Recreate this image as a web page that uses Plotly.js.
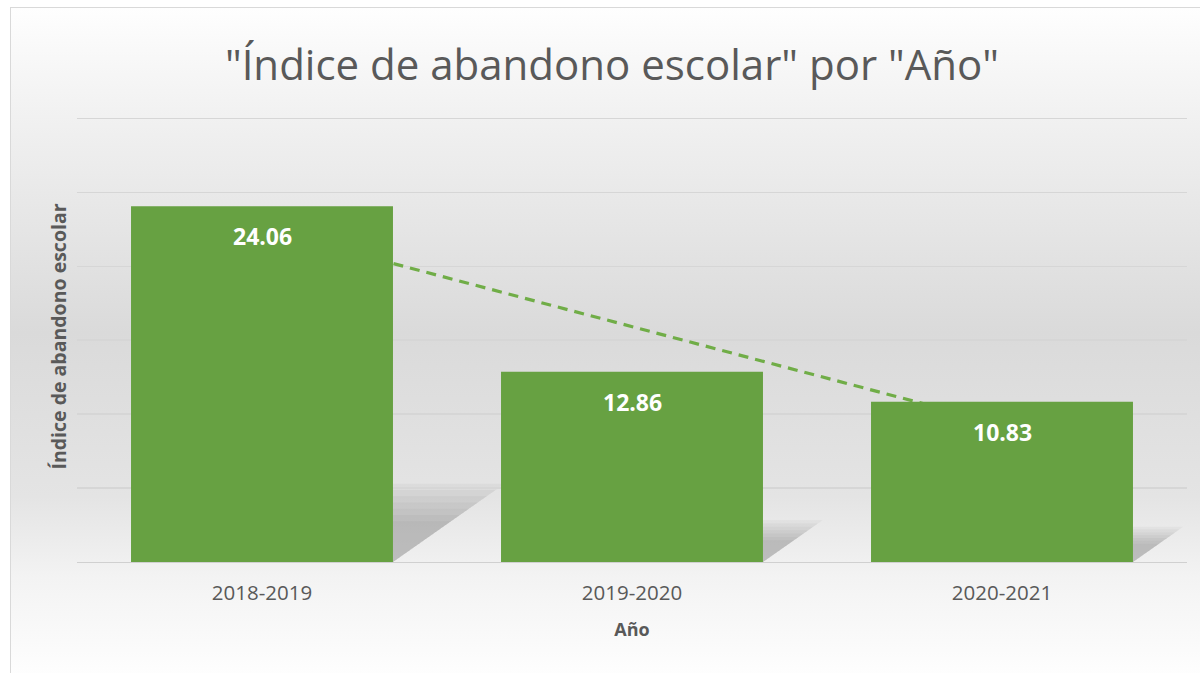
<!DOCTYPE html>
<html>
<head>
<meta charset="utf-8">
<script src="https://cdn.plot.ly/plotly-3.0.1.min.js"></script>
<style>
  html, body { margin: 0; padding: 0; background: #ffffff; width: 1200px; height: 673px; overflow: hidden; }
  #bg { position: absolute; left: 10px; top: 7px; width: 1200px; height: 680px; box-sizing: border-box;
        border: 1px solid #d9d9d9;
        background: linear-gradient(to bottom, #fefefe 0%, #f1f1f1 16%, #dadada 48%, #e4e4e4 72%, #f3f3f3 84%, #ffffff 100%); }
  #chart { position: absolute; left: 0; top: 0; width: 1200px; height: 673px; }
</style>
</head>
<body>
<div id="bg"></div>
<div id="chart"></div>
<script>
const categories = ["2018-2019", "2019-2020", "2020-2021"];
const values = [24.06, 12.86, 10.83];
const labels = ["24.06", "12.86", "10.83"];

// linear trendline (least squares over category index)
const n = values.length;
const xs = values.map((_, i) => i);
const mx = xs.reduce((a, b) => a + b, 0) / n;
const my = values.reduce((a, b) => a + b, 0) / n;
let sxy = 0, sxx = 0;
xs.forEach((x, i) => { sxy += (x - mx) * (values[i] - my); sxx += (x - mx) * (x - mx); });
const slope = sxy / sxx;
const intercept = my - slope * mx;
const trendX = [categories[0], categories[n - 1]];
const trendY = [intercept, intercept + slope * (n - 1)];

const textColor = "#595959";
const barColor = "#67a142";
const halfW = 0.354;

const trend = {
  type: "scatter", mode: "lines",
  x: trendX, y: trendY, xaxis: "x", yaxis: "y",
  line: { color: "#70ad47", width: 3.2, dash: "10px,7px" },
  hoverinfo: "skip", showlegend: false
};
const bars = {
  type: "bar", x: categories, y: values, xaxis: "x2", yaxis: "y2",
  marker: { color: barColor },
  width: 0.708, showlegend: false, hoverinfo: "skip"
};

// soft shadows to the right of each bar
const shapes = [];
values.forEach((v, i) => {
  const top = 0.22 * v;
  const w = 0.057 * top; // in category units
  const xr = i + halfW;
  [1.0, 0.92, 0.84, 0.76, 0.68, 0.6, 0.52].forEach(s => {
    shapes.push({
      type: "path", xref: "x2", yref: "y2", layer: "below",
      path: `M ${xr},${top * s} L ${xr + w * s},${top * s} L ${xr},0 Z`,
      fillcolor: "#606060", opacity: 0.055, line: { width: 0 }
    });
  });
});

const annotations = values.map((v, i) => ({
  x: categories[i], y: v, xref: "x2", yref: "y2", text: "<b>" + labels[i] + "</b>",
  showarrow: false, yanchor: "middle", yshift: -30,
  font: { family: "Open Sans, sans-serif", size: 23, color: "#ffffff" }
}));

const axisCommon = {
  type: "category", range: [-0.5, 2.5], showgrid: false, zeroline: false
};

const yRange = [0, 30.5];

const layout = {
  width: 1200, height: 673,
  margin: { l: 77, r: 13, t: 111, b: 111 },
  paper_bgcolor: "rgba(0,0,0,0)", plot_bgcolor: "rgba(0,0,0,0)",
  font: { family: "Open Sans, sans-serif", color: textColor },
  title: {
    text: '"Índice de abandono escolar" por "Año"',
    font: { family: "Open Sans, sans-serif", size: 42, color: textColor },
    x: 0.51, xanchor: "center", y: 0.903, yanchor: "middle"
  },
  xaxis: Object.assign({}, axisCommon, {
    categoryarray: categories, categoryorder: "array",
    ticks: "", showline: true, linecolor: "#d0d0d0", linewidth: 1,
    tickfont: { size: 20.5, color: textColor }, ticklabelstandoff: 12,
    title: { text: "<b>Año</b>", font: { size: 18, color: textColor }, standoff: 18 }
  }),
  yaxis: {
    range: yRange, tickvals: [0, 5, 10, 15, 20, 25, 30], showticklabels: false, ticks: "",
    showgrid: true, gridcolor: "#d6d6d6", gridwidth: 1.5, zeroline: false,
    title: { text: "<b>Índice de abandono escolar</b>", font: { size: 19.5, color: textColor }, standoff: 4 }
  },
  xaxis2: Object.assign({}, axisCommon, {
    overlaying: "x", matches: "x", categoryarray: categories, categoryorder: "array",
    showticklabels: false, ticks: ""
  }),
  yaxis2: { overlaying: "y", range: yRange, showgrid: false, showticklabels: false, zeroline: false },
  shapes: shapes,
  annotations: annotations
};

Plotly.newPlot("chart", [trend, bars], layout, { displayModeBar: false, staticPlot: true });
</script>
</body>
</html>
